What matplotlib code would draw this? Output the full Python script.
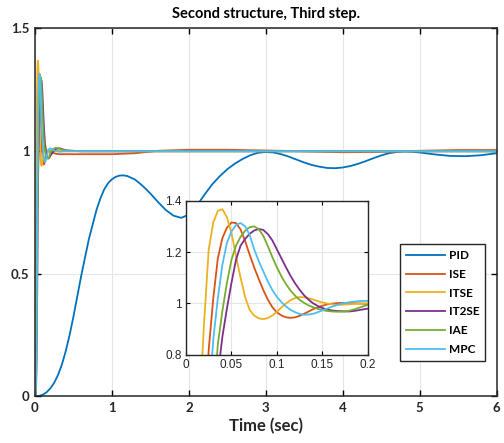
import matplotlib.pyplot as plt

# colours (MATLAB default order)
c_pid = '#0072BD'
c_ise = '#D95319'
c_itse = '#EDB120'
c_it2se = '#7E2F8E'
c_iae = '#77AC30'
c_mpc = '#4DBEEE'

# PID
t_pid = [0, 0.05, 0.1, 0.15, 0.2, 0.25, 0.3, 0.35, 0.4, 0.45, 0.5, 0.6, 0.7, 0.8, 0.85, 0.9, 0.95,
         1.0, 1.05, 1.1, 1.15, 1.2, 1.3, 1.4, 1.5, 1.6, 1.7,
         1.8, 1.9, 2.0, 2.1, 2.2, 2.3, 2.4, 2.5, 2.6, 2.7, 2.8, 2.9, 3.0, 3.1, 3.2, 3.3, 3.4, 3.5,
         3.6, 3.7, 3.8, 3.9, 4.0, 4.1, 4.2, 4.3, 4.4, 4.5, 4.6, 4.7, 4.8, 4.9, 5.0, 5.2, 5.4, 5.6,
         5.8, 6.0]
y_pid = [0, 0.002, 0.007, 0.017, 0.033, 0.056, 0.088, 0.13, 0.185, 0.25, 0.325, 0.49, 0.64, 0.76,
         0.806, 0.843, 0.868, 0.884, 0.894, 0.899, 0.9, 0.897, 0.883,
         0.857, 0.826, 0.791, 0.759, 0.736, 0.727, 0.74, 0.775, 0.82, 0.862, 0.896, 0.925, 0.948,
         0.967, 0.982, 0.992, 0.995, 0.993, 0.986, 0.976, 0.964, 0.952, 0.942, 0.935, 0.93, 0.929,
         0.932, 0.938, 0.947, 0.958, 0.97, 0.981, 0.99, 0.995, 0.997, 0.996, 0.993, 0.985, 0.979,
         0.978, 0.982, 0.99]

# fast controllers, first 0.2 s every 5 ms, then coarser
t_fast = [0, 0.005, 0.01, 0.015, 0.02, 0.025, 0.03, 0.035, 0.04, 0.045, 0.05, 0.055, 0.06, 0.065,
          0.07, 0.075, 0.08, 0.085, 0.09, 0.095, 0.1, 0.105, 0.11, 0.115, 0.12, 0.125, 0.13, 0.135,
          0.14, 0.145, 0.15, 0.155, 0.16, 0.165, 0.17, 0.175, 0.18, 0.185, 0.19, 0.195, 0.2,
          0.23, 0.27, 0.32, 0.4, 0.6, 1.0, 1.3, 1.6, 2.0, 2.5, 3.2, 4.0, 4.4, 5.0, 5.5, 6.0]

y_ise = [0, 0.01, 0.06, 0.22, 0.50, 0.82, 1.02, 1.175, 1.254, 1.295, 1.315, 1.313, 1.288, 1.243,
         1.19, 1.14, 1.095, 1.052, 1.015, 0.985, 0.965, 0.953, 0.946, 0.944, 0.946, 0.952, 0.96, 0.969,
         0.978, 0.985, 0.991, 0.996, 0.999, 1.001, 1.002, 1.002, 1.002, 1.001, 1.0, 0.999, 0.998,
         0.992, 0.988, 0.986, 0.986, 0.986, 0.986, 0.99, 1.0, 1.004, 1.004, 1.0, 0.994, 0.995, 1.0, 1.003, 1.003]

y_itse = [0, 0.05, 0.25, 0.60, 0.93, 1.21, 1.315, 1.36, 1.367, 1.335, 1.275, 1.185, 1.10, 1.025,
          0.975, 0.953, 0.942, 0.939, 0.943, 0.953, 0.968, 0.985, 1.0, 1.013, 1.021, 1.025, 1.024, 1.02,
          1.015, 1.009, 1.004, 1.0, 0.997, 0.995, 0.995, 0.996, 0.997, 0.998, 0.999, 1.0, 1.0,
          1.002, 1.002, 1.0, 0.998, 0.998, 0.998, 0.998, 0.998, 0.998, 0.998, 0.998, 0.998, 0.998, 0.998, 0.998, 0.998]

y_it2se = [0, 0.002, 0.012, 0.045, 0.12, 0.26, 0.46, 0.72, 0.87, 0.98, 1.08, 1.17, 1.225, 1.251,
           1.271, 1.284, 1.29, 1.286, 1.27, 1.245, 1.21, 1.175, 1.14, 1.107, 1.078, 1.053, 1.031, 1.014,
           1.0, 0.99, 0.982, 0.977, 0.973, 0.971, 0.97, 0.969, 0.969, 0.971, 0.974, 0.977, 0.98,
           0.993, 1.008, 1.01, 1.002, 0.998, 0.998, 0.998, 0.998, 0.998, 0.998, 0.998, 0.998, 0.998, 0.998, 0.998, 0.998]

y_iae = [0, 0.003, 0.02, 0.07, 0.18, 0.35, 0.60, 0.84, 0.97, 1.08, 1.17, 1.225, 1.259, 1.283,
         1.297, 1.30, 1.289, 1.263, 1.223, 1.18, 1.14, 1.105, 1.075, 1.05, 1.03, 1.014, 1.002, 0.992,
         0.985, 0.979, 0.974, 0.971, 0.969, 0.968, 0.968, 0.969, 0.972, 0.977, 0.983, 0.989, 0.995,
         1.006, 1.012, 1.008, 1.0, 0.998, 0.998, 0.998, 0.998, 0.998, 0.998, 0.998, 0.998, 0.998, 0.998, 0.998, 0.998]

y_mpc = [0, 0.005, 0.03, 0.11, 0.30, 0.60, 0.86, 1.02, 1.15, 1.236, 1.28, 1.306, 1.313, 1.30,
         1.267, 1.21, 1.165, 1.125, 1.085, 1.052, 1.025, 1.005, 0.988, 0.975, 0.966, 0.959, 0.956, 0.957,
         0.96, 0.966, 0.973, 0.98, 0.987, 0.993, 0.998, 1.002, 1.005, 1.007, 1.009, 1.01, 1.01,
         1.005, 0.998, 0.996, 0.998, 0.998, 0.998, 0.998, 0.998, 0.998, 0.998, 0.998, 0.998, 0.998, 0.998, 0.998, 0.998]

fig = plt.figure(figsize=(5.04, 4.43), dpi=100)
ax = fig.add_axes([0.0694, 0.105, 0.916, 0.832])

lw = 1.3
ax.plot(t_pid, y_pid, color=c_pid, lw=lw, label='PID')
ax.plot(t_fast, y_ise, color=c_ise, lw=lw, label='ISE')
ax.plot(t_fast, y_itse, color=c_itse, lw=lw, label='ITSE')
ax.plot(t_fast, y_it2se, color=c_it2se, lw=lw, label='IT2SE')
ax.plot(t_fast, y_iae, color=c_iae, lw=lw, label='IAE')
ax.plot(t_fast, y_mpc, color=c_mpc, lw=lw, label='MPC')

ax.set_xlim(0, 6)
ax.set_ylim(0, 1.5)
ax.set_xticks([0, 1, 2, 3, 4, 5, 6])
ax.set_yticks([0, 0.5, 1, 1.5])
ax.set_yticklabels(['0', '0.5', '1', '1.5'])
ax.grid(True, color='#e6e6e6', lw=0.8)
ax.tick_params(direction='in', top=True, right=True, length=4, width=1, pad=4)
for lab in ax.get_xticklabels() + ax.get_yticklabels():
    lab.set_fontfamily('Lato')
    lab.set_fontweight('bold')
    lab.set_fontsize(9.5)
    lab.set_color('#262626')
for s in ax.spines.values():
    s.set_linewidth(1.1)
    s.set_color('#262626')
ax.set_xlabel('Time (sec)', fontfamily='Lato', fontweight='bold', fontsize=12, color='#262626', labelpad=3)
ax.set_title('Second structure, Third step.', fontfamily='Lato', fontweight='bold', fontsize=10.5,
             color='#000000', pad=7)

fig.legend(loc='upper left', bbox_to_anchor=(0.794, 0.449), borderaxespad=0, frameon=True,
           fancybox=False, edgecolor='#262626', framealpha=1, handlelength=3.3, labelspacing=0.66,
           borderpad=0.5, handletextpad=0.3, prop={'family': 'Lato', 'weight': 'bold', 'size': 8.5})

# inset
axi = fig.add_axes([0.369, 0.199, 0.361, 0.348])
axi.plot(t_fast, y_ise, color=c_ise, lw=1.3)
axi.plot(t_fast, y_itse, color=c_itse, lw=1.3)
axi.plot(t_fast, y_it2se, color=c_it2se, lw=1.3)
axi.plot(t_fast, y_iae, color=c_iae, lw=1.3)
axi.plot(t_fast, y_mpc, color=c_mpc, lw=1.3)
axi.set_xlim(0, 0.2)
axi.set_ylim(0.8, 1.4)
axi.set_xticks([0, 0.05, 0.1, 0.15, 0.2])
axi.set_xticklabels(['0', '0.05', '0.1', '0.15', '0.2'])
axi.set_yticks([0.8, 1.0, 1.2, 1.4])
axi.set_yticklabels(['0.8', '1', '1.2', '1.4'])
axi.grid(True, color='#e6e6e6', lw=0.8)
axi.tick_params(direction='in', top=True, right=True, length=3, width=0.8, pad=3,
                labelsize=8.5, labelcolor='#262626')
for lab in axi.get_xticklabels() + axi.get_yticklabels():
    lab.set_fontfamily('Liberation Sans')
for s in axi.spines.values():
    s.set_linewidth(1.0)
    s.set_color('#262626')

fig.savefig('out.png', dpi=100)
